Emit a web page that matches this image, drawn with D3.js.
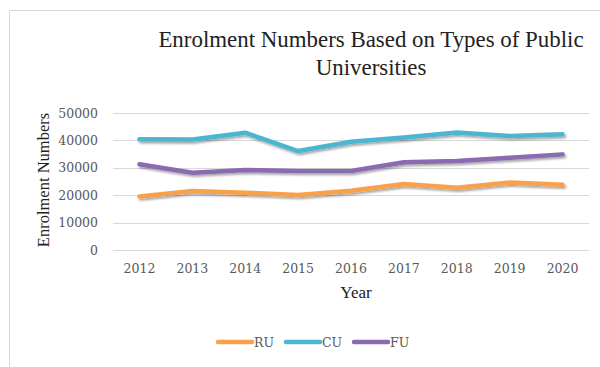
<!DOCTYPE html>
<html>
<head>
<meta charset="utf-8">
<script src="https://cdn.jsdelivr.net/npm/d3@7"></script>
<style>
  body { margin: 0; background: #fff; }
</style>
</head>
<body>
<div id="chart"></div>
<script>
// chart data
const years = ["2012", "2013", "2014", "2015", "2016", "2017", "2018", "2019", "2020"];
const ruValues = [19500, 21500, 20900, 20100, 21600, 24100, 22700, 24600, 23800];
const cuValues = [40400, 40300, 42800, 36100, 39500, 41100, 42900, 41600, 42200];
const fuValues = [31300, 28200, 29200, 28800, 28800, 32000, 32500, 33700, 34900];
const seriesNames = ["RU", "CU", "FU"];
const yTicks = [0, 10000, 20000, 30000, 40000, 50000];

const colors = { RU: "#F9A04B", CU: "#4BB6CF", FU: "#8A6BB0" };
const series = [
    { name: "RU", values: ruValues },
    { name: "CU", values: cuValues },
    { name: "FU", values: fuValues }
];

const W = 600, H = 367;
const margin = { top: 113, right: 11, bottom: 117, left: 113 },
    width = W - margin.left - margin.right,
    height = H - margin.top - margin.bottom;

const svgRoot = d3.select("#chart")
    .append("svg")
    .attr("width", W)
    .attr("height", H);

// drop shadow under the lines
const defs = svgRoot.append("defs");
defs.append("filter")
    .attr("id", "shadow")
    .attr("x", "-10%").attr("y", "-50%")
    .attr("width", "120%").attr("height", "200%")
    .append("feDropShadow")
    .attr("dx", 1.5).attr("dy", 2)
    .attr("stdDeviation", 1.3)
    .attr("flood-color", "#000")
    .attr("flood-opacity", 0.35);

// chart border
svgRoot.append("path")
    .attr("d", "M9.5," + H + "V10.5H" + W)
    .attr("fill", "none")
    .attr("stroke", "#d9d9d9")
    .attr("stroke-width", 1);

// title
const title = svgRoot.append("text")
    .attr("text-anchor", "middle")
    .style("font-family", "'Liberation Serif', 'Times New Roman', serif")
    .style("font-size", "22.9px")
    .style("fill", "#222");
title.append("tspan").attr("x", 371).attr("y", 47).text("Enrolment Numbers Based on Types of Public");
title.append("tspan").attr("x", 371).attr("y", 75).text("Universities");

const svg = svgRoot.append("g")
    .attr("transform", "translate(" + margin.left + "," + margin.top + ")");

const x = d3.scaleBand()
    .domain(years)
    .range([0, width]);

const y = d3.scaleLinear()
    .domain([0, 50000])
    .range([height, 0]);

// gridlines
svg.append("g")
    .selectAll("line")
    .data(yTicks)
    .enter()
    .append("line")
    .attr("x1", 0)
    .attr("x2", width)
    .attr("y1", d => Math.round(y(d)) + 0.5)
    .attr("y2", d => Math.round(y(d)) + 0.5)
    .attr("stroke", "#d9d9d9")
    .attr("stroke-width", 1);

const tickFont = "'DejaVu Serif', serif";

// Y axis
const yAxis = svg.append("g")
    .call(d3.axisLeft(y).tickValues(yTicks).tickSize(0).tickPadding(15).tickFormat(d3.format("d")));
yAxis.select(".domain").remove();
yAxis.selectAll("text")
    .style("font-family", tickFont)
    .style("font-size", "12.5px")
    .style("fill", "#595959");

// X axis
const xAxis = svg.append("g")
    .attr("transform", "translate(0," + height + ")")
    .call(d3.axisBottom(x).tickSize(0).tickPadding(14));
xAxis.select(".domain").remove();
xAxis.selectAll("text")
    .style("font-family", tickFont)
    .style("font-size", "12.5px")
    .style("fill", "#595959");

// axis titles
svgRoot.append("text")
    .attr("x", 356)
    .attr("y", 298)
    .attr("text-anchor", "middle")
    .style("font-family", "'Liberation Serif', serif")
    .style("font-size", "17px")
    .style("fill", "#222")
    .text("Year");

svgRoot.append("text")
    .attr("transform", "translate(49,180) rotate(-90)")
    .attr("text-anchor", "middle")
    .style("font-family", "'Liberation Serif', serif")
    .style("font-size", "16.5px")
    .style("fill", "#222")
    .text("Enrolment Numbers");

// lines
const line = d3.line()
    .x((d, i) => x(years[i]) + x.bandwidth() / 2)
    .y(d => y(d));

svg.append("g")
    .selectAll("path")
    .data(series)
    .enter()
    .append("path")
    .attr("d", d => line(d.values))
    .attr("fill", "none")
    .attr("stroke", d => colors[d.name])
    .attr("stroke-width", 4.5)
    .attr("stroke-linejoin", "round")
    .attr("stroke-linecap", "round")
    .attr("filter", "url(#shadow)");

// legend
const legendX = [218, 286, 354];
const legend = svgRoot.append("g")
    .selectAll("g")
    .data(seriesNames)
    .enter()
    .append("g")
    .attr("transform", (d, i) => "translate(" + legendX[i] + ",342)");
legend.append("line")
    .attr("x1", 0).attr("x2", 34)
    .attr("stroke", d => colors[d])
    .attr("stroke-width", 4.5)
    .attr("stroke-linecap", "round");
legend.append("text")
    .attr("x", 36)
    .attr("y", 5)
    .style("font-family", tickFont)
    .style("font-size", "12.5px")
    .style("fill", "#595959")
    .text(d => d);
</script>
</body>
</html>
